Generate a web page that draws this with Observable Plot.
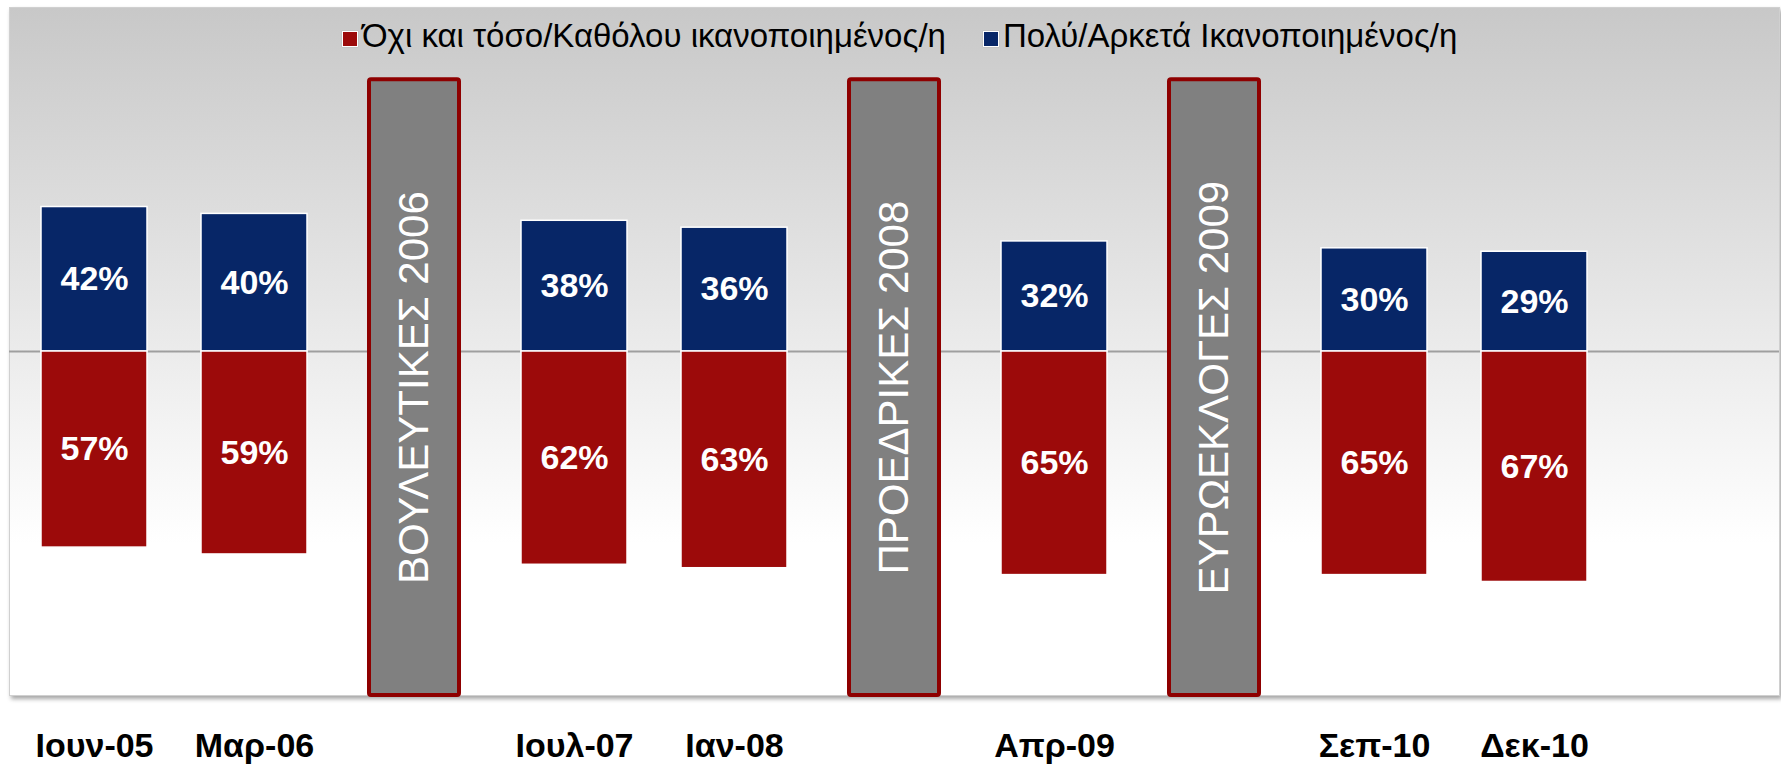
<!DOCTYPE html>
<html><head><meta charset="utf-8">
<script src="https://cdn.jsdelivr.net/npm/d3@7"></script>
<script src="https://cdn.jsdelivr.net/npm/@observablehq/plot@0.6"></script>
<style>
html,body{margin:0;padding:0;background:#fff;}
#wrap{position:relative;width:1781px;height:765px;overflow:hidden;}
.item{position:absolute;top:19px;display:flex;align-items:center;font-family:"Liberation Sans",Arial,sans-serif;font-size:33px;line-height:33px;color:#000;white-space:nowrap;}
.sw{width:14px;height:14px;margin-right:4px;border:1px solid #fff;box-shadow:0 0 1px #999;position:relative;top:3px;}
svg [aria-label="frame"]{filter:drop-shadow(2px 3px 2px rgba(0,0,0,0.35));}
</style>
</head><body>
<div id="wrap"><div id="chart"></div></div>
<script>
// Slot order along the time axis (survey waves and elections), last slot empty
const timeline = ["Ιουν-05","Μαρ-06","ΒΟΥΛΕΥΤΙΚΕΣ 2006","Ιουλ-07","Ιαν-08","ΠΡΟΕΔΡΙΚΕΣ 2008","Απρ-09","ΕΥΡΩΕΚΛΟΓΕΣ 2009","Σεπ-10","Δεκ-10",""];
const surveyDates = ["Ιουν-05","Μαρ-06","Ιουλ-07","Ιαν-08","Απρ-09","Σεπ-10","Δεκ-10"];
const satisfied = [42,40,38,36,32,30,29];      // Πολύ/Αρκετά
const dissatisfied = [57,59,62,63,65,65,67];   // Όχι και τόσο/Καθόλου
const events = ["ΒΟΥΛΕΥΤΙΚΕΣ 2006","ΠΡΟΕΔΡΙΚΕΣ 2008","ΕΥΡΩΕΚΛΟΓΕΣ 2009"];
const eventTop = 79;
const seriesNames = ["Όχι και τόσο/Καθόλου ικανοποιημένος/η","Πολύ/Αρκετά Ικανοποιημένος/η"];
const seriesColors = ["#9c0a0a","#072667"];
const legendLeft = [342, 983];

const pos = surveyDates.map((d,i)=>({date:d, v:satisfied[i]}));
const neg = surveyDates.map((d,i)=>({date:d, v:dissatisfied[i]}));
const ev = events.map(e=>({name:e, top:eventTop}));

const font = "Liberation Sans, Arial, sans-serif";

const plot = Plot.plot({
  width:1781, height:765,
  marginLeft:9, marginRight:2, marginTop:7, marginBottom:70,
  style:{background:"transparent", fontFamily:font, overflow:"visible"},
  x:{domain:timeline, paddingInner:0.34, paddingOuter:0.17, axis:null},
  y:{domain:[-100,100], axis:null},
  marks:[
    Plot.frame({fill:"url(#bgGrad)", stroke:"#d0d0d0", strokeWidth:1}),
    Plot.ruleY([0], {stroke:"#9f9f9f", strokeWidth:2}),
    Plot.barY(pos, {x:"date", y:"v", fill:seriesColors[1], stroke:"#fff", strokeWidth:1.5}),
    Plot.barY(neg, {x:"date", y1:0, y2:d=>-d.v, fill:seriesColors[0], stroke:"#fff", strokeWidth:1.5}),
    Plot.barY(ev, {x:"name", y1:-100, y2:"top", fill:"#808080", stroke:"#8e0000", strokeWidth:4, insetLeft:8, insetRight:8, rx:2}),
    Plot.text(ev, {x:"name", y:d=>(d.top-100)/2, text:"name", rotate:-90, fill:"#fff", fontSize:42, fontFamily:font}),
    Plot.text(pos, {x:"date", y:d=>d.v/2, text:d=>d.v+"%", fill:"#fff", fontSize:34, fontWeight:"bold", fontFamily:font}),
    Plot.text(neg, {x:"date", y:d=>-d.v/2, text:d=>d.v+"%", fill:"#fff", fontSize:34, fontWeight:"bold", fontFamily:font}),
    Plot.axisX({tickSize:0, tickPadding:37, tickFormat:d=>surveyDates.includes(d)?d:"", fontSize:34, fontWeight:"bold", fontFamily:font, fill:"#000", label:null})
  ]
});

const defs = d3.select(plot).insert("defs", ":first-child");
const g = defs.append("linearGradient").attr("id","bgGrad").attr("x1",0).attr("y1",0).attr("x2",0).attr("y2",1);
g.append("stop").attr("offset","0%").attr("stop-color","#c8c8c8");
g.append("stop").attr("offset","45%").attr("stop-color","#e8e8e8");
g.append("stop").attr("offset","78%").attr("stop-color","#ffffff");
g.append("stop").attr("offset","100%").attr("stop-color","#ffffff");

document.getElementById("chart").appendChild(plot);

const wrap = d3.select("#wrap");
seriesNames.forEach((n,i)=>{
  const it = wrap.append("div").attr("class","item").style("left", legendLeft[i]+"px");
  it.append("div").attr("class","sw").style("background", seriesColors[i]);
  it.append("span").text(n);
});
</script>
</body></html>
